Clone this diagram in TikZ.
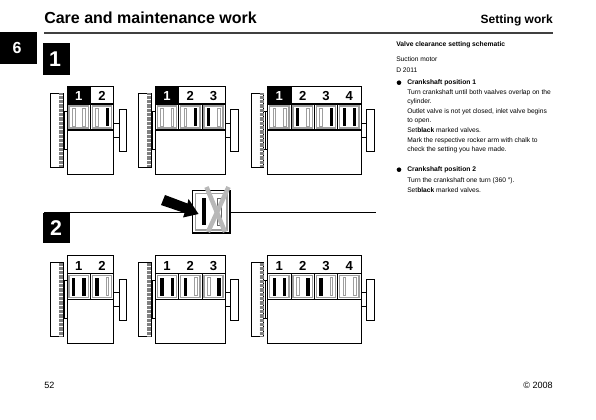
\documentclass[tikz,border=0pt]{standalone}
\usepackage{fontspec}
\setmainfont{Liberation Sans}
\definecolor{frameg}{gray}{0.62}
\definecolor{xg}{gray}{0.72}
\tikzset{
  x=0.75pt,y=-0.75pt,
  line/.style={draw=black,line width=0.6pt},
  bodytext/.style={anchor=base west,inner sep=0pt,font=\fontsize{5}{6}\selectfont},
  headtext/.style={anchor=base west,inner sep=0pt,font=\fontsize{5.05}{6}\selectfont\bfseries},
  numlabel/.style={inner sep=0pt,font=\fontsize{9.8}{11}\selectfont\bfseries},
  bignum/.style={inner sep=0pt,text=white,font=\fontsize{16}{18}\selectfont\bfseries},
}
% valve: #1 x, #2 y-top, #3 0 open 1 black
\newcommand{\valve}[3]{%
  \ifnum#3=1
    \fill[black] (#1-1.7,#2+4) rectangle (#1+1.7,#2+22);
  \else
    \draw[frameg,line width=0.55pt] (#1-1.3,#2+4) rectangle (#1+1.3,#2+22);
  \fi}
% engine: #1 x, #2 y, #3 count, #4 1 when first label is black, #5 valve list
\newcommand{\engine}[5]{%
  \pgfmathsetmacro{\blockw}{#3*23.3}
  \begin{scope}[shift={(#1,#2)}]
    % flywheel
    \draw[line] (-16.5,7) rectangle (-4,81);
    \foreach \hk in {0,1.3,...,73}
      \draw[gray,line width=0.35pt] (-8,7.4+\hk) -- (-4,7.4+\hk);
    \draw[line] (-4,25) -- (-2.5,25) -- (-2.5,63) -- (-4,63);
    \draw[line] (-2.5,25) -- (0,25) (-2.5,63) -- (0,63);
    % right box
    \draw[line] (\blockw+5.5,23.5) rectangle (\blockw+13,65);
    \draw[line] (\blockw,37) -- (\blockw+5.5,37) (\blockw,51) -- (\blockw+5.5,51);
    % block
    \draw[line] (0,0) rectangle (\blockw,88);
    \ifnum#4=1 \fill[black] (0,0) rectangle (23.8,18); \fi
    \foreach \vp/\va/\vb [count=\vc from 0] in {#5}{
      \pgfmathsetmacro{\cx}{\vc*23.3}
      \begin{scope}[shift={(\cx,0)}]
        \draw[line] (0,18) rectangle (23.3,44);
        \draw[frameg,line width=1.15pt] (2,20) rectangle (21.3,42);
        \valve{6.7}{18}{\va}
        \valve{17}{18}{\vb}
      \end{scope}
    }
    \draw[line width=0.8pt] (0,18) -- (\blockw,18) (0,44) -- (\blockw,44);
  \end{scope}}
\newcommand{\enginelabels}[4]{%
  \foreach \vc in {1,...,#3}{
    \pgfmathsetmacro{\cx}{#1+(\vc-0.5)*23.3}
    \ifnum\vc=1 \ifnum#4=1
      \node[numlabel,text=white] (n#1x#2x\vc) at (\cx,#2+10) {\vc};
    \else
      \node[numlabel] (n#1x#2x\vc) at (\cx,#2+10) {\vc};
    \fi\else
      \node[numlabel] (n#1x#2x\vc) at (\cx,#2+10) {\vc};
    \fi
  }}
\begin{document}
\begin{tikzpicture}
\useasboundingbox (0,0) rectangle (596,420);
\fill[white] (0,0) rectangle (596,420);
% header
\node[anchor=base west,inner sep=0pt,font=\fontsize{12}{14}\selectfont\bfseries] (title) at (44,24) {Care and maintenance work};
\node[anchor=base east,inner sep=0pt,font=\fontsize{9}{10}\selectfont\bfseries] (settitle) at (553,23.5) {Setting work};
\draw[line width=0.8pt,black!75] (44,33) -- (553,33);
% tab and big numerals
\fill[black] (0,32) rectangle (37,64);
\node[inner sep=0pt,text=white,font=\fontsize{12}{14}\selectfont\bfseries] (tab) at (17,48) {6};
\fill[black] (43,43) rectangle (70,75);
\node[bignum] (one) at (55,59) {1};
\draw[line width=0.7pt] (44,212) -- (192,212) (230,212) -- (376,212);
\fill[black] (43,213) rectangle (70,243);
\node[bignum] (two) at (56,228) {2};
% engines top
\engine{67}{86}{2}{1}{a/0/0,b/0/1}
\enginelabels{67}{86}{2}{1}
\engine{155.3}{86}{3}{1}{a/0/0,b/0/1,c/1/0}
\enginelabels{155.3}{86}{3}{1}
\engine{267.7}{86}{4}{1}{a/0/0,b/1/0,c/0/1,d/1/1}
\enginelabels{267.7}{86}{4}{1}
% engines bottom
\engine{67}{255.7}{2}{0}{a/1/1,b/1/0}
\enginelabels{67}{255.7}{2}{0}
\engine{155.3}{255.7}{3}{0}{a/1/1,b/1/0,c/0/1}
\enginelabels{155.3}{255.7}{3}{0}
\engine{267.7}{255.7}{4}{0}{a/1/1,b/0/1,c/1/0,d/0/0}
\enginelabels{267.7}{255.7}{4}{0}
% detail cell
\draw[line width=0.9pt,fill=white] (192.7,190.5) rectangle (230,233);
\draw[frameg,line width=1pt] (195.5,193.5) rectangle (227,230);
\fill[black] (201.5,198) rectangle (206,225);
\draw[black!60,line width=0.5pt] (217,198) rectangle (221.5,225);
\fill[black] (161,205) -- (165,195) -- (187.5,203.5) -- (188.5,199) -- (198.5,214) -- (183,217.5) -- (184.5,213) -- cycle;
\draw[xg,line width=3.4pt] (206.5,187) -- (225,232);
\draw[xg,line width=3.4pt] (228.5,187) -- (208,232);
% right text
\node[headtext] (a1) at (396,47) {Valve clearance setting schematic};
\node[bodytext] (a2) at (396,61.3) {Suction motor};
\node[bodytext] (a3) at (396,72.7) {D 2011};
\fill[black] (399,82.7) circle (2.3);
\node[headtext] (a4) at (407,84.7) {Crankshaft position 1};
\node[bodytext] (a5) at (407,94.7) {Turn crankshaft until both vaalves overlap on the};
\node[bodytext] (a6) at (407,103.4) {cylinder.};
\node[bodytext] (a7) at (407,113.7) {Outlet valve is not yet closed, inlet valve begins};
\node[bodytext] (a8) at (407,122.7) {to open.};
\node[bodytext] (a9) at (407,133) {Set\textbf{black} marked valves.};
\node[bodytext] (a10) at (407,142.4) {Mark the respective rocker arm with chalk to};
\node[bodytext] (a11) at (407,152) {check the setting you have made.};
\fill[black] (399,169.7) circle (2.3);
\node[headtext] (a12) at (407,171.7) {Crankshaft position 2};
\node[bodytext] (a13) at (407,182.3) {Turn the crankshaft one turn (360 °).};
\node[bodytext] (a14) at (407,192.3) {Set\textbf{black} marked valves.};
% footer
\node[anchor=base west,inner sep=0pt,font=\fontsize{6.8}{8}\selectfont] (page) at (44,388) {52};
\node[anchor=base east,inner sep=0pt,font=\fontsize{6.8}{8}\selectfont] (copy) at (553,388) {© 2008};
\end{tikzpicture}
\end{document}
